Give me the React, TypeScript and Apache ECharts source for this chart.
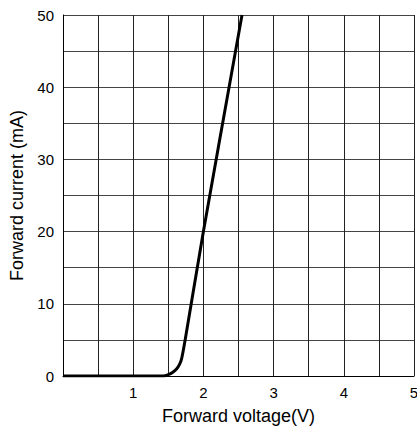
import React, { useEffect, useRef } from "react";
import * as echarts from "echarts";

const voltage = [0, 1.43, 1.5, 1.56, 1.62, 1.66, 1.69, 1.74, 2.0, 2.55];
const current = [0, 0, 0.2, 0.5, 1.0, 1.6, 2.4, 5, 20, 50];
const xTickLabels = ["1", "2", "3", "4", "5"];
const yTickLabels = ["0", "10", "20", "30", "40", "50"];

export default function App() {
  const ref = useRef<HTMLDivElement>(null);
  useEffect(() => {
    if (!ref.current) return;
    const chart = echarts.init(ref.current, null, { renderer: "svg" });
    const font = "Liberation Sans, Arial, sans-serif";
    chart.setOption({
      animation: false,
      backgroundColor: "#fff",
      grid: {
        left: 63,
        right: 3,
        top: 15,
        bottom: 54,
        containLabel: false,
        outerBoundsMode: "none",
      },
      xAxis: {
        type: "value",
        min: 0,
        max: 5,
        interval: 0.5,
        name: "Forward voltage(V)",
        nameLocation: "middle",
        nameGap: 31,
        nameTextStyle: { fontFamily: font, fontSize: 18, color: "#000" },
        axisLine: { show: true, lineStyle: { color: "#000", width: 1 } },
        axisTick: { show: false },
        axisLabel: {
          fontFamily: font,
          fontSize: 15,
          color: "#000",
          margin: 9,
          formatter: (v: number) => {
            const s = String(Math.round(v * 100) / 100);
            return xTickLabels.includes(s) ? s : "";
          },
        },
        splitLine: { show: true, lineStyle: { color: "#222", width: 1 } },
      },
      yAxis: {
        type: "value",
        min: 0,
        max: 50,
        interval: 5,
        name: "Forward current (mA)",
        nameLocation: "middle",
        nameGap: 37,
        nameTextStyle: { fontFamily: font, fontSize: 18, color: "#000" },
        axisLine: { show: true, lineStyle: { color: "#000", width: 1 } },
        axisTick: { show: false },
        axisLabel: {
          fontFamily: font,
          fontSize: 15,
          color: "#000",
          margin: 9,
          formatter: (v: number) => {
            const s = String(v);
            return yTickLabels.includes(s) ? s : "";
          },
        },
        splitLine: { show: true, lineStyle: { color: "#444", width: 1 } },
      },
      series: [
        {
          type: "line",
          data: voltage.map((v, i) => [v, current[i]]),
          smooth: 0.3,
          showSymbol: false,
          symbol: "none",
          lineStyle: { color: "#000", width: 3 },
          clip: true,
        },
      ],
    });
    return () => chart.dispose();
  }, []);
  return (
    <div
      ref={ref}
      style={{ position: "fixed", left: 0, top: 0, width: 417, height: 430 }}
    />
  );
}
